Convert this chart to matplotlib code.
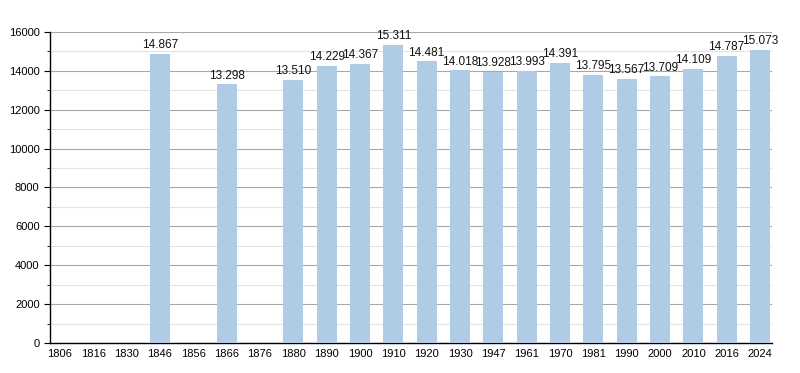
import matplotlib
matplotlib.use("Agg")
from matplotlib import pyplot as plt
from matplotlib.ticker import MultipleLocator
import numpy as np

plt.rcParams['font.family'] = ['Liberation Sans', 'DejaVu Sans']

years = ["1806", "1816", "1830", "1846", "1856", "1866", "1876", "1880", "1890",
         "1900", "1910", "1920", "1930", "1947", "1961", "1970", "1981", "1990",
         "2000", "2010", "2016", "2024"]
population = [None, None, None, 14867, None, 13298, None, 13510, 14229,
              14367, 15311, 14481, 14018, 13928, 13993, 14391, 13795, 13567,
              13709, 14109, 14787, 15073]

fig = plt.figure(figsize=(8, 3.73), dpi=100)
ax = fig.add_axes([0.0625, 0.0804, 0.9025, 0.834])

x = np.arange(len(years))
vals = [v if v is not None else 0 for v in population]
ax.bar(x, vals, width=0.6, color="#b0cbe6", zorder=3)

# value labels, thousands with a dot
for xi, v in zip(x, population):
    if v is None:
        continue
    ax.text(xi, v + 150, f"{v:,}".replace(",", "."), ha="center", va="bottom",
            fontsize=8.5, color="#111111", zorder=4)

ax.set_xlim(-0.3, len(years) - 0.64)
ax.set_ylim(0, 16000)
ax.set_xticks(x)
ax.set_xticklabels(years, fontsize=8)
ax.yaxis.set_major_locator(MultipleLocator(2000))
ax.yaxis.set_minor_locator(MultipleLocator(1000))
ax.tick_params(axis="y", labelsize=8, length=4, width=0.8)
ax.tick_params(axis="y", which="minor", length=2)
ax.tick_params(axis="x", length=0, pad=4)
ax.grid(axis="y", which="major", color="#a8a8a8", linewidth=0.8, zorder=0)
ax.grid(axis="y", which="minor", color="#e3e3e3", linewidth=0.8, zorder=0)

for s in ["top", "right"]:
    ax.spines[s].set_visible(False)
ax.spines["left"].set_linewidth(1)
ax.spines["bottom"].set_linewidth(1)

fig.savefig("out.png", dpi=100)
